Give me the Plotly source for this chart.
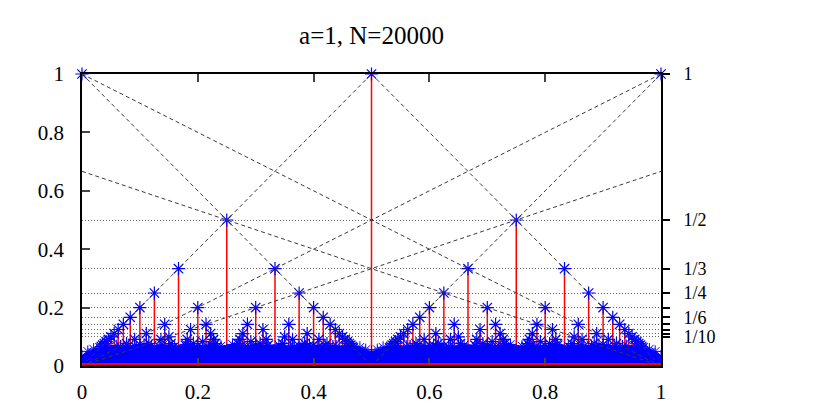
import plotly.graph_objects as go

# peaks: x = k / (2q), height = 1/q  (one list of k per q)
peak_den = [1, 2, 3, 4, 5, 6, 7, 8, 9, 10, 11, 12, 13, 14, 15, 16]
peak_num = [
    [0, 1, 2],
    [1, 3],
    [1, 2, 4, 5],
    [1, 3, 5, 7],
    [1, 2, 3, 4, 6, 7, 8, 9],
    [1, 5, 7, 11],
    [1, 2, 3, 4, 5, 6, 8, 9, 10, 11, 12, 13],
    [1, 3, 5, 7, 9, 11, 13, 15],
    [1, 2, 4, 5, 7, 8, 10, 11, 13, 14, 16, 17],
    [1, 3, 7, 9, 11, 13, 17, 19],
    [1, 2, 3, 4, 5, 6, 7, 8, 9, 10, 12, 13, 14, 15, 16, 17, 18, 19, 20, 21],
    [1, 5, 7, 11, 13, 17, 19, 23],
    [1, 2, 3, 4, 5, 6, 7, 8, 9, 10, 11, 12, 14, 15, 16, 17, 18, 19, 20, 21, 22, 23, 24, 25],
    [1, 3, 5, 9, 11, 13, 15, 17, 19, 23, 25, 27],
    [1, 2, 4, 7, 8, 11, 13, 14, 16, 17, 19, 22, 23, 26, 28, 29],
    [1, 3, 5, 7, 9, 11, 13, 15, 17, 19, 21, 23, 25, 27, 29, 31],
]

# dense cloud of small values near the bottom (upper edge)
blob_x = [0, 0.01, 0.02, 0.04, 0.06, 0.08, 0.10, 0.12, 0.14, 0.16, 0.18, 0.20, 0.22,
          0.24, 0.26, 0.28, 0.30, 0.32, 0.34, 0.36, 0.38, 0.40, 0.42, 0.44, 0.46, 0.48,
          0.49, 0.50, 0.51, 0.52, 0.54, 0.56, 0.58, 0.60, 0.62, 0.64, 0.66, 0.68, 0.70,
          0.72, 0.74, 0.76, 0.78, 0.80, 0.82, 0.84, 0.86, 0.88, 0.90, 0.92, 0.94, 0.96,
          0.98, 0.99, 1.0]
blob_y = [0.035, 0.05, 0.058, 0.064, 0.07, 0.068, 0.074, 0.07, 0.072, 0.068, 0.074, 0.07,
          0.072, 0.068, 0.074, 0.069, 0.073, 0.07, 0.072, 0.068, 0.074, 0.07, 0.072, 0.068,
          0.07, 0.064, 0.056, 0.048, 0.056, 0.064, 0.07, 0.068, 0.072, 0.07, 0.074, 0.068,
          0.072, 0.07, 0.073, 0.069, 0.074, 0.068, 0.072, 0.07, 0.074, 0.068, 0.072, 0.07,
          0.074, 0.068, 0.07, 0.064, 0.058, 0.05, 0.035]

# dashed guide lines (start / end points)
guide_x0 = [0, 0, 0.5, 0.5, 0, 0, 0, 0]
guide_y0 = [1, 0, 1, 0, 1, 0, 2 / 3, 0]
guide_x1 = [0.5, 0.5, 1, 1, 1, 1, 1, 1]
guide_y1 = [0, 1, 0, 1, 0, 1, 0, 2 / 3]

# right axis
right_ticks = [1, 1 / 2, 1 / 3, 1 / 4, 1 / 5, 1 / 6, 1 / 7, 1 / 8, 1 / 9, 1 / 10]
right_labels = ["1", "1/2", "1/3", "1/4", "", "1/6", "", "", "", "1/10"]

px_, py_, stem = [], [], []
for q, nums in zip(peak_den, peak_num):
    for k in nums:
        x = k / (2 * q)
        px_.append(x)
        py_.append(1 / q)
        # no impulse drawn on the frame edges
        stem.append(0 if x in (0, 1) else 1 / q)

gx, gy = [], []
for a, b, c, d in zip(guide_x0, guide_y0, guide_x1, guide_y1):
    gx += [a, c, None]
    gy += [b, d, None]

serif = "Liberation Serif"
blue = "#0000ff"

fig = go.Figure()

fig.add_trace(go.Scatter(
    x=px_, y=py_, mode="markers", cliponaxis=False,
    marker=dict(symbol="asterisk-open", size=11, color=blue, line=dict(color=blue, width=1.2)),
    error_y=dict(type="data", symmetric=False, array=[0] * len(py_), arrayminus=stem,
                 width=0, color="#ff0000", thickness=1.5),
    showlegend=False,
))

fig.add_trace(go.Scatter(
    x=blob_x, y=blob_y, mode="lines+markers", fill="tozeroy", fillcolor=blue,
    line=dict(color=blue, width=1),
    marker=dict(symbol="asterisk-open", size=10, color=blue, line=dict(color=blue, width=1)),
    showlegend=False,
))

fig.add_trace(go.Scatter(
    x=gx, y=gy, mode="lines", yaxis="y2",
    line=dict(color="#3a3a3a", width=1, dash="4px,3px"),
    showlegend=False, hoverinfo="skip",
))

fig.add_shape(type="line", xref="x domain", x0=0, x1=1, yref="y", ysizemode="pixel",
              yanchor=0, y0=2, y1=2, line=dict(color="#ff0000", width=2), layer="above")

# the page body adds an 8px offset, so the figure is sized to fit inside the window
fig.update_layout(
    width=815, height=399,
    margin=dict(l=74, r=162, t=66, b=41, autoexpand=False),
    plot_bgcolor="white", paper_bgcolor="white",
    font=dict(family=serif, color="black", size=21),
    title=dict(text="a=1, N=20000", x=0.5, xref="paper", xanchor="center",
               y=0.932, yref="container", yanchor="middle", font=dict(size=25)),
    xaxis=dict(range=[0, 1], dtick=0.2, ticks="inside", ticklen=8, tickwidth=1.5,
               showline=True, linecolor="black", linewidth=1.5, mirror="ticks",
               showgrid=False, zeroline=False, ticklabelstandoff=6, automargin=False),
    yaxis=dict(range=[0, 1], dtick=0.2, ticks="inside", ticklen=8, tickwidth=1.5,
               showline=True, linecolor="black", linewidth=1.5, mirror=True,
               showgrid=False, zeroline=False, ticklabelstandoff=12, automargin=False),
    yaxis2=dict(range=[0, 1], overlaying="y", side="right", tickmode="array",
                tickvals=right_ticks, ticktext=right_labels, ticks="outside", ticklen=8,
                tickwidth=1.5, tickcolor="black", showline=False, zeroline=False,
                showgrid=True, gridcolor="#666666", gridwidth=1, griddash="1px,2px",
                tickfont=dict(size=18), ticklabelstandoff=10, automargin=False),
)

fig.write_html("out.html")
